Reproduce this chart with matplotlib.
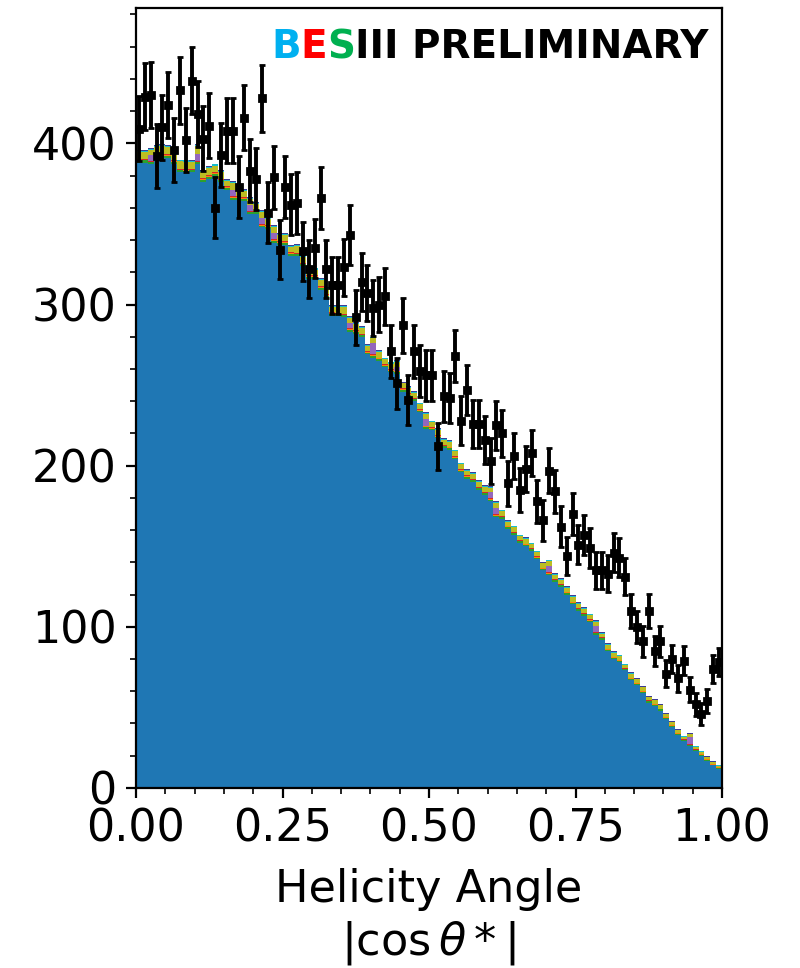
import matplotlib

matplotlib.use("Agg")
import matplotlib.pyplot as plt
import numpy as np
from matplotlib.offsetbox import AnchoredOffsetbox, HPacker, TextArea
from matplotlib.ticker import MultipleLocator

plt.rcParams["font.size"] = 16

# |cos theta*| histogram, 100 bins in [0, 1]
bin_edges = np.linspace(0, 1, 101)
bin_centers = 0.5 * (bin_edges[:-1] + bin_edges[1:])

data_counts = [
    409, 429, 430, 392, 410, 424, 396, 433, 402, 439,
    418, 403, 411, 360, 393, 408, 408, 373, 416, 383,
    378, 428, 357, 379, 334, 373, 362, 363, 333, 322,
    335, 366, 322, 312, 312, 323, 343, 292, 314, 307,
    298, 300, 305, 271, 251, 287, 241, 271, 259, 256,
    256, 212, 243, 242, 268, 228, 247, 226, 226, 216,
    203, 225, 220, 189, 206, 185, 198, 208, 178, 166,
    197, 184, 162, 144, 170, 151, 157, 149, 135, 135,
    133, 146, 143, 131, 110, 100, 91, 110, 85, 91,
    71, 80, 68, 79, 61, 52, 46, 54, 74, 78,
]

mc_signal = [
    388, 388, 387, 391, 391, 391, 387, 382, 382, 382,
    387, 376, 378, 380, 376, 371, 365, 365, 364, 356,
    356, 348, 347, 338, 337, 337, 330, 330, 324, 316,
    316, 309, 304, 293, 293, 292, 283, 282, 280, 269,
    267, 265, 261, 258, 257, 246, 243, 240, 233, 223,
    222, 217, 211, 210, 204, 196, 192, 190, 185, 182,
    178, 168, 167, 161, 157, 152, 150, 147, 142, 135,
    132, 128, 125, 120, 114, 110, 107, 103, 95, 92,
    85, 80, 78, 73, 67, 64, 59, 53, 51, 48,
    43, 38, 33, 29, 26, 23, 20, 17, 14, 12,
]

mc_green = [
    1.2, 1.4, 1.2, 1.0, 1.3, 1.2, 1.5, 1.2, 1.0, 1.2,
    1.2, 1.4, 1.2, 1.2, 1.0, 1.3, 1.2, 1.2, 1.4, 1.2,
    1.2, 1.0, 1.2, 1.3, 1.2, 1.2, 1.4, 1.2, 1.0, 1.2,
    1.2, 1.2, 1.3, 1.2, 1.0, 1.2, 1.2, 1.2, 1.0, 1.2,
    1.0, 1.2, 1.0, 1.0, 1.1, 1.0, 1.0, 1.2, 1.0, 1.0,
    1.0, 1.0, 1.1, 1.0, 1.0, 1.0, 1.2, 1.0, 1.0, 1.0,
    1.0, 1.0, 0.9, 1.0, 1.0, 1.0, 0.9, 1.0, 1.0, 1.0,
    1.0, 0.9, 0.9, 1.0, 0.9, 0.9, 0.9, 0.9, 0.9, 0.9,
    0.8, 0.8, 0.8, 0.8, 0.8, 0.8, 0.8, 0.7, 0.7, 0.7,
    0.7, 0.7, 0.6, 0.6, 0.6, 0.6, 0.6, 0.5, 0.5, 0.5,
]

mc_orange = [
    0.4, 0.4, 0.4, 0.5, 0.4, 0.4, 0.4, 0.5, 0.4, 0.4,
    0.4, 0.4, 0.5, 0.4, 0.4, 0.4, 0.4, 0.4, 0.5, 0.4,
    0.4, 0.4, 0.4, 0.5, 0.4, 0.4, 0.4, 0.4, 0.4, 0.4,
    0.4, 0.4, 0.4, 0.4, 0.4, 0.4, 0.4, 0.4, 0.4, 0.4,
    0.4, 0.4, 0.4, 0.4, 0.4, 0.4, 0.4, 0.4, 0.4, 0.4,
    0.4, 0.3, 0.4, 0.3, 0.4, 0.3, 0.3, 0.4, 0.3, 0.3,
    0.4, 0.4, 0.3, 0.3, 0.3, 0.3, 0.3, 0.3, 0.3, 0.3,
    0.3, 0.3, 0.3, 0.3, 0.3, 0.3, 0.3, 0.3, 0.3, 0.3,
    0.3, 0.3, 0.3, 0.3, 0.3, 0.2, 0.2, 0.2, 0.2, 0.2,
    0.2, 0.2, 0.2, 0.2, 0.2, 0.2, 0.2, 0.2, 0.2, 0.2,
]

mc_red = [
    0.6, 0.6, 0.7, 0.6, 0.6, 0.6, 0.6, 0.6, 0.7, 0.6,
    0.6, 0.6, 0.6, 0.6, 0.7, 0.6, 0.6, 0.6, 0.6, 0.6,
    0.6, 0.6, 0.7, 0.6, 0.6, 0.6, 0.6, 0.6, 0.6, 0.6,
    0.6, 0.6, 0.6, 0.6, 0.6, 0.6, 0.6, 0.6, 0.6, 0.6,
    0.6, 0.5, 0.6, 0.5, 0.5, 0.6, 0.5, 0.5, 0.6, 0.5,
    0.5, 0.5, 0.5, 0.5, 0.5, 0.5, 0.5, 0.5, 0.5, 0.5,
    0.5, 0.5, 0.5, 0.5, 0.5, 0.5, 0.5, 0.5, 0.5, 0.5,
    0.5, 0.5, 0.5, 0.5, 0.5, 0.5, 0.5, 0.5, 0.5, 0.5,
    0.4, 0.4, 0.4, 0.4, 0.4, 0.4, 0.4, 0.4, 0.4, 0.4,
    0.4, 0.4, 0.4, 0.4, 0.4, 0.4, 0.4, 0.4, 0.4, 0.4,
]

mc_purple = [
    0, 0, 3.5, 0, 0, 0, 0, 0, 0, 0,
    4, 0, 0, 0, 0, 0, 4, 0, 0, 3.5,
    0, 4, 0, 4, 0, 0, 0, 0, 0, 0,
    0, 0, 0, 0, 0, 0, 3.5, 0, 0, 0,
    7, 0, 0, 0, 2, 0, 0, 0, 0, 4,
    0, 0, 0, 0, 0, 0, 0, 0, 0, 0,
    4, 4, 0, 0, 0, 0, 0, 0, 0, 0,
    4, 0, 0, 0, 0, 0, 0, 0, 4, 0,
    0, 0, 0, 0, 0, 0, 0, 0, 0, 0,
    0, 0, 0, 0, 4.5, 0, 0, 0, 0, 0,
]

mc_olive = [
    4.5, 4.0, 3.0, 4.5, 5.0, 4.5, 3.0, 4.5, 4.5, 4.0,
    5.0, 4.0, 4.5, 4.0, 4.0, 3.5, 4.0, 3.5, 4.0, 3.5,
    4.0, 3.5, 4.0, 3.5, 4.0, 4.0, 3.5, 4.0, 3.5, 4.0,
    3.5, 4.0, 3.5, 3.0, 3.5, 4.0, 3.0, 3.5, 3.5, 3.0,
    3.0, 3.5, 3.0, 3.5, 3.5, 3.0, 3.5, 3.0, 3.0, 3.0,
    3.0, 3.5, 3.0, 3.0, 3.0, 3.0, 3.0, 3.0, 3.0, 3.0,
    2.5, 3.0, 3.0, 2.5, 3.0, 2.5, 3.0, 2.5, 2.5, 2.5,
    3.0, 2.5, 2.5, 2.5, 3.0, 2.5, 2.5, 2.5, 2.5, 2.0,
    2.5, 2.5, 2.5, 2.0, 2.5, 2.0, 2.0, 2.0, 2.0, 2.0,
    1.5, 1.5, 1.5, 1.5, 1.5, 1.5, 1.2, 1.0, 1.0, 0.8,
]

mc_cyan = [
    0.8, 0.8, 0.8, 0.7, 0.8, 0.8, 0.8, 0.7, 0.8, 0.8,
    0.8, 0.7, 0.8, 0.8, 0.8, 0.7, 0.8, 0.8, 0.7, 0.8,
    0.7, 0.7, 0.8, 0.7, 0.7, 0.8, 0.7, 0.7, 0.7, 0.7,
    0.7, 0.7, 0.7, 0.7, 0.7, 0.7, 0.7, 0.7, 0.7, 0.7,
    0.6, 0.6, 0.6, 0.7, 0.6, 0.6, 0.6, 0.6, 0.6, 0.6,
    0.6, 0.6, 0.6, 0.6, 0.6, 0.6, 0.6, 0.6, 0.6, 0.6,
    0.5, 0.5, 0.5, 0.5, 0.5, 0.5, 0.5, 0.5, 0.5, 0.5,
    0.5, 0.5, 0.5, 0.5, 0.5, 0.5, 0.5, 0.5, 0.5, 0.5,
    0.4, 0.4, 0.4, 0.4, 0.4, 0.4, 0.4, 0.4, 0.4, 0.4,
    0.3, 0.3, 0.3, 0.3, 0.3, 0.3, 0.3, 0.3, 0.3, 0.3,
]

mc_navy = [
    0.5, 0.5, 0.5, 0.5, 0.5, 0.5, 0.5, 0.5, 0.5, 0.5,
    0.5, 0.5, 0.5, 0.5, 0.5, 0.5, 0.5, 0.5, 0.5, 0.5,
    0.5, 0.5, 0.5, 0.5, 0.5, 0.5, 0.5, 0.5, 0.5, 0.5,
    0.5, 0.5, 0.5, 0.5, 0.5, 0.5, 0.5, 0.5, 0.5, 0.5,
    0.5, 0.5, 0.5, 0.5, 0.5, 0.5, 0.5, 0.5, 0.5, 0.5,
    0.4, 0.4, 0.4, 0.4, 0.4, 0.4, 0.4, 0.4, 0.4, 0.4,
    0.4, 0.4, 0.4, 0.4, 0.4, 0.4, 0.4, 0.4, 0.4, 0.4,
    0.4, 0.4, 0.4, 0.4, 0.4, 0.4, 0.4, 0.4, 0.4, 0.4,
    0.3, 0.3, 0.3, 0.3, 0.3, 0.3, 0.3, 0.3, 0.3, 0.3,
    0.3, 0.3, 0.3, 0.3, 0.3, 0.3, 0.3, 0.3, 0.3, 0.3,
]

mc_components = [
    mc_signal, mc_green, mc_orange, mc_red,
    mc_purple, mc_olive, mc_cyan, mc_navy,
]
mc_colors = [
    "tab:blue", "tab:green", "tab:orange", "tab:red",
    "tab:purple", "tab:olive", "tab:cyan", "#3c3c96",
]

fig = plt.figure(figsize=(4, 4.84), dpi=200)
ax = fig.add_axes([0.17, 0.186, 0.7325, 0.8057])

ax.hist(
    [bin_centers] * len(mc_components),
    bins=bin_edges,
    weights=mc_components,
    stacked=True,
    histtype="stepfilled",
    color=mc_colors,
    linewidth=0,
)

counts = np.array(data_counts, dtype=float)
ax.errorbar(
    bin_centers,
    counts,
    yerr=np.sqrt(counts),
    fmt="s",
    color="black",
    markersize=2,
    markeredgewidth=1,
    elinewidth=1.4,
    capsize=1.2,
    capthick=1.4,
    zorder=5,
)

ax.set_xlim(0, 1)
ax.set_ylim(0, 484)
ax.xaxis.set_major_locator(MultipleLocator(0.25))
ax.xaxis.set_minor_locator(MultipleLocator(0.05))
ax.yaxis.set_major_locator(MultipleLocator(100))
ax.yaxis.set_minor_locator(MultipleLocator(20))
ax.set_xlabel("Helicity Angle\n$|\\cos\\theta*|$", labelpad=6.5)

# coloured BESIII tag
tag_font = dict(fontsize=14, fontweight="bold")
parts = [
    TextArea("B", textprops=dict(color="#00b0f0", **tag_font)),
    TextArea("E", textprops=dict(color="#ff0000", **tag_font)),
    TextArea("S", textprops=dict(color="#00b050", **tag_font)),
    TextArea("III PRELIMINARY", textprops=dict(color="black", **tag_font)),
]
tag = AnchoredOffsetbox(
    loc="upper right",
    child=HPacker(children=parts, align="baseline", pad=0, sep=0),
    frameon=False,
    pad=0,
    borderpad=0.3,
    bbox_to_anchor=(1.0, 0.991),
    bbox_transform=ax.transAxes,
)
ax.add_artist(tag)

fig.savefig("out.png", dpi=200)
